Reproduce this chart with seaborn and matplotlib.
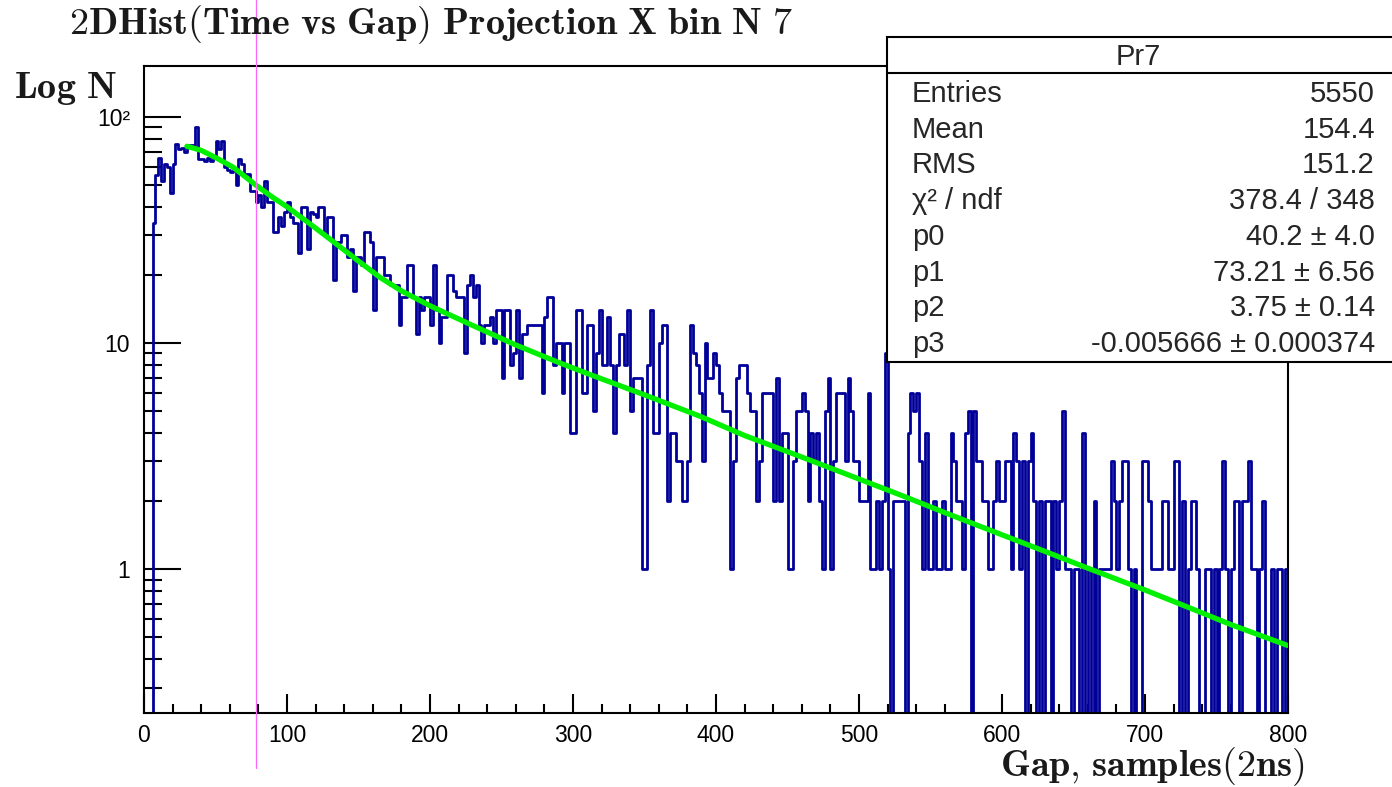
# -*- coding: utf-8 -*-
# Projection X bin 7 of the 2D histogram (time vs gap), log scale, with fit

import numpy as np
import pandas as pd
import matplotlib
matplotlib.use('Agg')
import matplotlib.pyplot as plt
from matplotlib.ticker import MultipleLocator, LogLocator, FixedLocator, FixedFormatter, NullFormatter
from matplotlib.patches import Rectangle
from matplotlib.lines import Line2D
import seaborn as sns

# %% data

# counts per bin, bins of 2 samples from 0 to 800 (10 bins per row)
counts = [
    0, 0, 0, 34, 55, 66, 52, 62, 60, 46,
    62, 76, 72, 73, 70, 75, 75, 74, 90, 65,
    65, 64, 66, 64, 66, 78, 72, 78, 60, 58,
    57, 58, 50, 65, 62, 56, 56, 47, 47, 42,
    45, 40, 52, 42, 42, 31, 31, 36, 33, 38,
    42, 36, 34, 34, 25, 40, 40, 26, 38, 37,
    36, 40, 40, 30, 36, 36, 19, 28, 28, 30,
    30, 24, 26, 17, 24, 24, 22, 31, 31, 28,
    14, 24, 24, 24, 20, 20, 18, 18, 18, 12,
    16, 16, 22, 22, 16, 11, 16, 14, 16, 16,
    12, 22, 14, 10, 13, 13, 20, 20, 17, 16,
    16, 16, 9, 18, 20, 16, 18, 12, 10, 12,
    12, 13, 10, 14, 14, 7, 14, 14, 8, 9,
    14, 7, 11, 11, 12, 12, 12, 12, 12, 6,
    13, 16, 16, 8, 10, 10, 6, 10, 10, 4,
    4, 14, 14, 6, 6, 12, 12, 5, 9, 14,
    8, 8, 13, 8, 4, 8, 11, 11, 8, 14,
    5, 7, 7, 7, 1, 1, 8, 14, 4, 4,
    10, 12, 12, 2, 4, 4, 3, 3, 2, 2,
    3, 12, 9, 8, 6, 3, 10, 7, 7, 9,
    8, 6, 5, 5, 5, 1, 3, 7, 8, 8,
    8, 6, 5, 5, 2, 3, 6, 6, 6, 6,
    2, 7, 2, 4, 4, 1, 1, 3, 5, 5,
    6, 5, 2, 4, 3, 4, 2, 1, 5, 7,
    1, 3, 6, 6, 6, 3, 7, 5, 3, 3,
    2, 2, 2, 6, 1, 1, 2, 1, 2, 9,
    1, 0, 2, 2, 2, 2, 0, 4, 6, 5,
    6, 3, 1, 4, 1, 1, 2, 1, 1, 2,
    1, 1, 4, 3, 2, 2, 1, 4, 5, 0,
    5, 3, 3, 2, 2, 1, 1, 2, 3, 2,
    2, 3, 3, 1, 4, 3, 1, 3, 0, 3,
    4, 2, 0, 2, 0, 2, 2, 0, 2, 1,
    2, 5, 1, 1, 0, 1, 1, 0, 4, 0,
    1, 0, 2, 0, 1, 1, 1, 1, 3, 2,
    1, 2, 3, 3, 1, 0, 1, 0, 0, 3,
    3, 2, 1, 1, 1, 1, 2, 2, 1, 1,
    3, 3, 0, 2, 0, 1, 2, 2, 1, 0,
    0, 1, 1, 0, 1, 0, 1, 3, 1, 0,
    1, 2, 2, 0, 2, 2, 3, 1, 1, 0,
    1, 2, 0, 0, 1, 0, 1, 1, 0, 1,
]
gap_min, gap_max, bin_w = 0, 800, 2

# green fit curve
fit_gap = [30, 40, 50, 62, 78, 90, 100, 115, 130, 150, 165, 180, 200, 228, 260,
           290, 312, 350, 389, 420, 459, 490, 529, 560, 600, 630, 662, 700, 730,
           760, 800]
fit_n = [74, 71, 66, 60, 50, 44, 40, 34, 28.8, 23, 19.5, 17, 14.6, 12.1, 9.8,
         8.2, 7.25, 5.9, 4.74, 3.9, 3.15, 2.65, 2.13, 1.78, 1.42, 1.2, 1.0, 0.81,
         0.68, 0.57, 0.46]

cut_gap = 78.3  # magenta marker line

stat_names = ['Entries', 'Mean', 'RMS', 'χ² / ndf', 'p0', 'p1', 'p2', 'p3']
stat_vals = ['5550', '154.4', '151.2', '378.4 / 348', '40.2 ± 4.0',
             '73.21 ± 6.56', '3.75 ± 0.14', '-0.005666 ± 0.000374']

# %% plot

W, H = 1392, 787
sns.set_theme(style='white')
plt.rcParams['font.family'] = ['Liberation Sans', 'DejaVu Sans']
plt.rcParams['mathtext.fontset'] = 'cm'

df = pd.DataFrame({'gap': np.arange(gap_min, gap_max, bin_w) + bin_w / 2, 'n': counts})

fig = plt.figure(figsize=(W / 100, H / 100), dpi=100)
fig.patch.set_facecolor('white')
ax = fig.add_axes([144 / W, 1 - 712.7 / H, (1288 - 144) / W, (712.7 - 65.7) / H])

sns.histplot(data=df, x='gap', weights='n', binwidth=bin_w, binrange=(gap_min, gap_max),
             element='step', fill=False, color='#000099', linewidth=2.0, ax=ax)
sns.lineplot(x=fit_gap, y=fit_n, color='#00f000', linewidth=3.8, ax=ax, zorder=3)

ax.set_yscale('log')
ax.set_xlim(gap_min, gap_max)
ax.set_ylim(0.2324, 168)
ax.set_xlabel('')
ax.set_ylabel('')

ax.axvline(cut_gap, ymin=-0.0855, ymax=1.1015, color='#ff66ff', lw=0.9, clip_on=False, zorder=4)

ax.xaxis.set_major_locator(MultipleLocator(100))
ax.xaxis.set_minor_locator(MultipleLocator(20))
ax.yaxis.set_major_locator(FixedLocator([1, 10, 100]))
ax.yaxis.set_major_formatter(FixedFormatter(['1', '10', '10²']))
ax.yaxis.set_minor_locator(LogLocator(base=10, subs=np.arange(2, 10) * 1.0, numticks=20))
ax.yaxis.set_minor_formatter(NullFormatter())

ax.tick_params(which='both', direction='in', bottom=True, left=True, top=False, right=False,
               colors='black', width=1.5)
ax.tick_params(axis='y', which='major', length=26.5, pad=10, labelsize=16.5)
ax.tick_params(axis='y', which='minor', length=13)
ax.tick_params(axis='x', which='major', length=13.7, pad=8.0, labelsize=16.5)
ax.tick_params(axis='x', which='minor', length=6.5)
for s in ax.spines.values():
    s.set_visible(True)
    s.set_color('black')
    s.set_linewidth(1.5)

# titles (bold serif, like the ROOT canvas)
fig.text(431 / W, 1 - 34 / H, r'$\mathbf{2DHist(Time\ vs\ Gap)\ Projection\ X\ bin\ N\ 7}$',
         ha='center', va='baseline', fontsize=27.5, color='#1a1a1a')
fig.text(14 / W, 1 - 98 / H, r'$\mathbf{Log\ N}$', ha='left', va='baseline',
         fontsize=27.5, color='#1a1a1a')
fig.text(1305 / W, 1 - 776 / H, r'$\mathbf{Gap{,}\ samples(2ns)}$', ha='right', va='baseline',
         fontsize=27.5, color='#1a1a1a')

# stats box
box_l, box_r, box_t, box_b, head_b = 887, 1395, 37, 362, 72.7
fig.add_artist(Rectangle((box_l / W, 1 - box_b / H), (box_r - box_l) / W, (box_b - box_t) / H,
                         transform=fig.transFigure, facecolor='white', edgecolor='black',
                         lw=1.5, zorder=5))
fig.add_artist(Line2D([box_l / W, box_r / W], [1 - head_b / H] * 2, transform=fig.transFigure,
                      color='black', lw=1.5, zorder=6))
fig.text((box_l + 1390) / 2 / W, 1 - 65 / H, 'Pr7', ha='center', va='baseline',
         fontsize=21, zorder=7)
for i, (nm, vl) in enumerate(zip(stat_names, stat_vals)):
    yb = 102 + i * 35.7
    fig.text(912 / W, 1 - yb / H, nm, ha='left', va='baseline', fontsize=21, zorder=7)
    fig.text(1375 / W, 1 - yb / H, vl, ha='right', va='baseline', fontsize=21, zorder=7)

plt.savefig('out.png', dpi=100)
